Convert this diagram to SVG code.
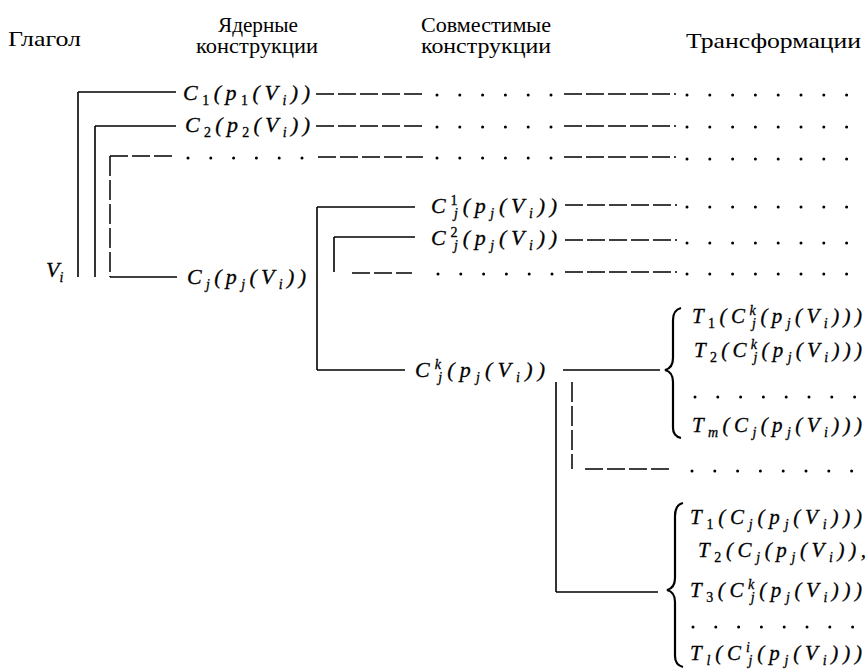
<svg xmlns="http://www.w3.org/2000/svg" width="867" height="669" viewBox="0 0 867 669">
<style>
text { font-family: "Liberation Serif", "Times New Roman", Times, "DejaVu Serif", serif; fill: #000; }
.h { font-size: 21px; }
.m { font-style: italic; font-size: 22px; stroke: #000; stroke-width: 0.3; }
.t { font-size: 21px; }
.s { font-size: 14px; }
.n { font-style: normal; }
.ln { stroke: #000; stroke-width: 1.6; fill: none; }
.da { stroke: #000; stroke-width: 1.5; stroke-dasharray: 18 4; fill: none; }
.dv { stroke: #000; stroke-width: 1.5; stroke-dasharray: 20 4; fill: none; }
.dt { stroke: #000; stroke-width: 3; stroke-linecap: round; stroke-dasharray: 0 22.8; fill: none; }
.br { stroke: #000; stroke-width: 2.2; fill: none; }
</style>
<rect x="0" y="0" width="867" height="669" fill="#fff"/>

<g id="headers">
  <text id="h-verb" class="h" x="8" y="46" textLength="73" lengthAdjust="spacingAndGlyphs">Глагол</text>
  <text id="h-core1" class="h" x="218" y="32" textLength="80" lengthAdjust="spacingAndGlyphs">Ядерные</text>
  <text id="h-core2" class="h" x="196" y="53" textLength="122" lengthAdjust="spacingAndGlyphs">конструкции</text>
  <text id="h-comp1" class="h" x="421" y="32" textLength="130" lengthAdjust="spacingAndGlyphs">Совместимые</text>
  <text id="h-comp2" class="h" x="421" y="53" textLength="130" lengthAdjust="spacingAndGlyphs">конструкции</text>
  <text id="h-trans" class="h" x="686" y="48" textLength="175" lengthAdjust="spacingAndGlyphs">Трансформации</text>
</g>

<g id="connectors">
  <line class="ln" x1="78" y1="92" x2="78" y2="277"/>
  <line class="ln" x1="78" y1="92" x2="176" y2="92"/>
  <line class="ln" x1="95" y1="126" x2="95" y2="277"/>
  <line class="ln" x1="95" y1="126" x2="176" y2="126"/>
  <line class="dv" x1="110" y1="156" x2="110" y2="277"/>
  <line class="da" x1="110" y1="156" x2="174" y2="156"/>
  <line class="ln" x1="110" y1="277" x2="177" y2="277"/>

  <line class="ln" x1="317" y1="207" x2="317" y2="370"/>
  <line class="ln" x1="317" y1="207" x2="415" y2="207"/>
  <line class="ln" x1="334" y1="237" x2="334" y2="272"/>
  <line class="ln" x1="334" y1="237" x2="415" y2="237"/>
  <line class="da" x1="352" y1="273" x2="412" y2="273"/>
  <line class="ln" x1="317" y1="370" x2="405" y2="370"/>

  <line class="ln" x1="563" y1="370" x2="660" y2="370"/>
  <line class="ln" x1="556" y1="382" x2="556" y2="592"/>
  <line class="ln" x1="556" y1="592" x2="658" y2="592"/>
  <line class="dv" x1="572" y1="382" x2="572" y2="469"/>
  <line class="da" x1="585" y1="469" x2="672" y2="469"/>

  <line class="da" x1="316" y1="94" x2="423" y2="94"/>
  <line class="dt" x1="437" y1="95" x2="552" y2="95"/>
  <line class="da" x1="564" y1="94" x2="676" y2="94"/>
  <line class="dt" x1="687" y1="95" x2="849" y2="95"/>

  <line class="da" x1="316" y1="126" x2="423" y2="126"/>
  <line class="dt" x1="437" y1="127" x2="552" y2="127"/>
  <line class="da" x1="564" y1="126" x2="676" y2="126"/>
  <line class="dt" x1="687" y1="127" x2="849" y2="127"/>

  <line class="dt" x1="188" y1="158" x2="303" y2="158"/>
  <line class="da" x1="318" y1="157" x2="423" y2="157"/>
  <line class="dt" x1="437" y1="158" x2="552" y2="158"/>
  <line class="da" x1="564" y1="157" x2="676" y2="157"/>
  <line class="dt" x1="687" y1="159" x2="849" y2="159"/>

  <line class="da" x1="565" y1="205" x2="677" y2="205"/>
  <line class="dt" x1="687" y1="207" x2="851" y2="207"/>
  <line class="da" x1="565" y1="240" x2="677" y2="240"/>
  <line class="dt" x1="687" y1="243" x2="851" y2="243"/>
  <line class="dt" x1="438" y1="274" x2="553" y2="274"/>
  <line class="da" x1="565" y1="272" x2="677" y2="272"/>
  <line class="dt" x1="687" y1="274" x2="851" y2="274"/>

  <line class="dt" x1="692" y1="471" x2="853" y2="471"/>
</g>

<g id="node-verb">
  <text class="m" x="46" y="277">V<tspan class="s" baseline-shift="-5">i</tspan></text>
</g>

<g id="node-c1">
  <text class="m" x="183" y="100" textLength="127" lengthAdjust="spacing">C<tspan class="s n" baseline-shift="-5">1</tspan>(p<tspan class="s n" baseline-shift="-5">1</tspan>(V<tspan class="s" baseline-shift="-5">i</tspan>))</text>
</g>
<g id="node-c2">
  <text class="m" x="185" y="132" textLength="125" lengthAdjust="spacing">C<tspan class="s n" baseline-shift="-5">2</tspan>(p<tspan class="s n" baseline-shift="-5">2</tspan>(V<tspan class="s" baseline-shift="-5">i</tspan>))</text>
</g>
<g id="node-cj">
  <text class="m" x="187" y="284" textLength="119" lengthAdjust="spacing">C<tspan class="s" baseline-shift="-5">j</tspan>(p<tspan class="s" baseline-shift="-5">j</tspan>(V<tspan class="s" baseline-shift="-5">i</tspan>))</text>
</g>
<g id="node-cj1">
  <text class="m" x="431" y="213" textLength="126" lengthAdjust="spacing">C<tspan class="s n" baseline-shift="8">1</tspan><tspan class="s" dx="-8" baseline-shift="-5">j</tspan>(p<tspan class="s" baseline-shift="-5">j</tspan>(V<tspan class="s" baseline-shift="-5">i</tspan>))</text>
</g>
<g id="node-cj2">
  <text class="m" x="431" y="245" textLength="126" lengthAdjust="spacing">C<tspan class="s n" baseline-shift="8">2</tspan><tspan class="s" dx="-8" baseline-shift="-5">j</tspan>(p<tspan class="s" baseline-shift="-5">j</tspan>(V<tspan class="s" baseline-shift="-5">i</tspan>))</text>
</g>
<g id="node-cjk">
  <text class="m" x="415" y="377" textLength="130" lengthAdjust="spacing">C<tspan class="s" baseline-shift="8">k</tspan><tspan class="s" dx="-8" baseline-shift="-5">j</tspan>(p<tspan class="s" baseline-shift="-5">j</tspan>(V<tspan class="s" baseline-shift="-5">i</tspan>))</text>
</g>

<g id="node-trans-k">
  <path class="br" d="M681 308 Q673 310 673 320 L673 358 Q673 368 665 370 Q673 372 673 382 L673 428 Q673 436 681 438"/>
  <text class="m t" x="692" y="323" textLength="170" lengthAdjust="spacing">T<tspan class="s n" baseline-shift="-5">1</tspan>(C<tspan class="s" baseline-shift="8">k</tspan><tspan class="s" dx="-8" baseline-shift="-5">j</tspan>(p<tspan class="s" baseline-shift="-5">j</tspan>(V<tspan class="s" baseline-shift="-5">i</tspan>)))</text>
  <text class="m t" x="694" y="357" textLength="168" lengthAdjust="spacing">T<tspan class="s n" baseline-shift="-5">2</tspan>(C<tspan class="s" baseline-shift="8">k</tspan><tspan class="s" dx="-8" baseline-shift="-5">j</tspan>(p<tspan class="s" baseline-shift="-5">j</tspan>(V<tspan class="s" baseline-shift="-5">i</tspan>)))</text>
  <line class="dt" x1="695" y1="397" x2="856" y2="397"/>
  <text class="m t" x="692" y="432" textLength="170" lengthAdjust="spacing">T<tspan class="s" baseline-shift="-5">m</tspan>(C<tspan class="s" baseline-shift="-5">j</tspan>(p<tspan class="s" baseline-shift="-5">j</tspan>(V<tspan class="s" baseline-shift="-5">i</tspan>)))</text>
</g>

<g id="node-trans-j">
  <path class="br" d="M683 503 Q675 505 675 516 L675 578 Q675 588 667 590 Q675 592 675 602 L675 656 Q675 665 683 667"/>
  <text class="m t" x="690" y="524" textLength="172" lengthAdjust="spacing">T<tspan class="s n" baseline-shift="-5">1</tspan>(C<tspan class="s" baseline-shift="-5">j</tspan>(p<tspan class="s" baseline-shift="-5">j</tspan>(V<tspan class="s" baseline-shift="-5">i</tspan>)))</text>
  <text class="m t" x="698" y="557" textLength="168" lengthAdjust="spacing">T<tspan class="s n" baseline-shift="-5">2</tspan>(C<tspan class="s" baseline-shift="-5">j</tspan>(p<tspan class="s" baseline-shift="-5">j</tspan>(V<tspan class="s" baseline-shift="-5">i</tspan>)),</text>
  <text class="m t" x="690" y="597" textLength="172" lengthAdjust="spacing">T<tspan class="s n" baseline-shift="-5">3</tspan>(C<tspan class="s" baseline-shift="8">k</tspan><tspan class="s" dx="-8" baseline-shift="-5">j</tspan>(p<tspan class="s" baseline-shift="-5">j</tspan>(V<tspan class="s" baseline-shift="-5">i</tspan>)))</text>
  <line class="dt" x1="693" y1="627" x2="855" y2="627"/>
  <text class="m t" x="690" y="660" textLength="172" lengthAdjust="spacing">T<tspan class="s" baseline-shift="-5">l</tspan>(C<tspan class="s" baseline-shift="8">i</tspan><tspan class="s" dx="-6" baseline-shift="-5">j</tspan>(p<tspan class="s" baseline-shift="-5">j</tspan>(V<tspan class="s" baseline-shift="-5">i</tspan>)))</text>
</g>
</svg>
